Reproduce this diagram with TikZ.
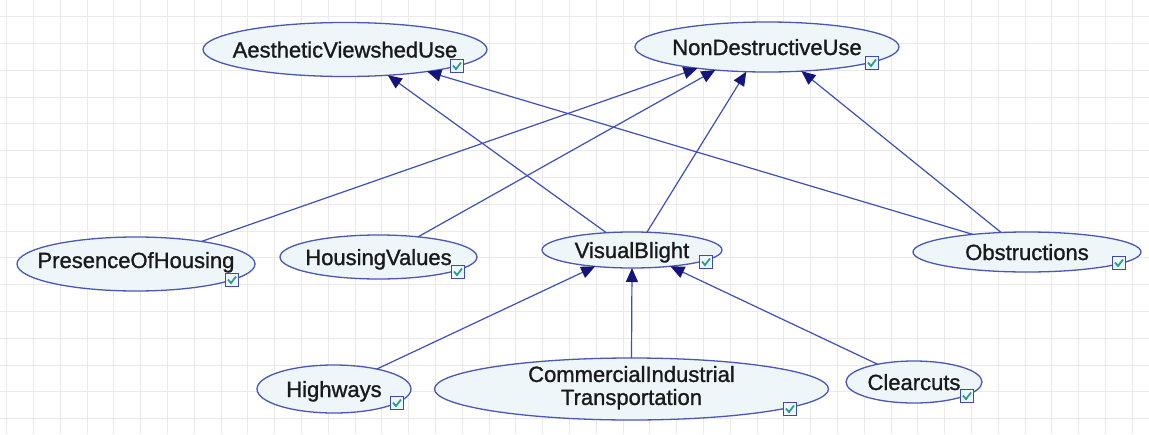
\documentclass[tikz,border=0pt]{standalone}
\usepackage{fontspec}
\setmainfont{Liberation Sans}
\newfontfamily\nodefont{Liberation Sans}[RawFeature={embolden=1.2}]
\usetikzlibrary{shapes.geometric,arrows.meta}
\definecolor{gridc}{HTML}{EAEAEE}
\definecolor{nodefill}{HTML}{EEF6FA}
\definecolor{nodeborder}{HTML}{4A57B5}
\definecolor{edgec}{HTML}{3D4FB8}
\definecolor{tipc}{HTML}{14147A}
\definecolor{boxc}{HTML}{3A4CB0}
\definecolor{checkc}{HTML}{2A9D8F}
\definecolor{textc}{HTML}{1A1A1A}
\newcommand\zw[1]{\makebox[0pt]{#1}}
\begin{document}
\begin{tikzpicture}[x=1pt,y=-1pt,
  bn/.style={ellipse, draw=nodeborder, fill=nodefill, line width=1.3pt, inner sep=0pt, outer sep=0pt,
    font=\nodefont\fontsize{22}{23}\selectfont, text=textc, text height=16pt, text depth=0pt},
  chk/.style={draw=boxc, fill=nodefill, line width=1pt, minimum size=13pt, inner sep=0pt, outer sep=0pt,
    path picture={\draw[checkc, line width=1.8pt]
      ([shift={(-4pt,0.5pt)}]path picture bounding box.center) --
      ([shift={(-1pt,-3pt)}]path picture bounding box.center) --
      ([shift={(4pt,3.5pt)}]path picture bounding box.center);}},
  arr/.style={draw=edgec, line width=1.2pt, -{Triangle[length=14pt,width=12pt,fill=tipc,color=tipc]}}
]
\useasboundingbox (0,0) rectangle (1149,434);
\fill[white] (0,0) rectangle (1149,434);
\foreach \i in {0,...,43} \draw[gridc, line width=0.8pt] ({6.5+26.8*\i},0) -- ++(0,434);
\foreach \j in {0,...,16} \draw[gridc, line width=0.8pt] (0,{16.5+26.8*\j}) -- ++(1149,0);

\node[bn, minimum width=284pt, minimum height=54pt] (AV) at (345,49.5) {\zw{AestheticViewshedUse}};
\node[bn, minimum width=264pt, minimum height=50pt] (ND) at (767,47) {\zw{NonDestructiveUse}};
\node[bn, minimum width=238pt, minimum height=54pt] (PH) at (136,264) {\raisebox{4pt}{\zw{PresenceOfHousing}}};
\node[bn, minimum width=197pt, minimum height=44pt] (HV) at (378.5,257) {\zw{HousingValues}};
\node[bn, minimum width=180pt, minimum height=36pt] (VB) at (632,250) {\zw{VisualBlight}};
\node[bn, minimum width=228pt, minimum height=40pt] (OB) at (1027,252) {\zw{Obstructions}};
\node[bn, minimum width=154pt, minimum height=48pt] (HW) at (334,389) {\zw{Highways}};
\node[bn, minimum width=394pt, minimum height=62pt, text height=0pt, text depth=0pt] (CT) at (631.5,389)
  {\makebox[0pt]{\smash{\raisebox{-5pt}{\begin{tabular}{c}CommercialIndustrial\\Transportation\end{tabular}}}}};
\node[bn, minimum width=136pt, minimum height=42pt] (CC) at (914,382) {\zw{Clearcuts}};

\node[chk] (kAV) at (457,66) {};
\node[chk] (kND) at (872,63) {};
\node[chk] (kPH) at (232,280) {};
\node[chk] (kHV) at (458,272) {};
\node[chk] (kVB) at (706,262) {};
\node[chk] (kOB) at (1119,263) {};
\node[chk] (kHW) at (397,403) {};
\node[chk] (kCT) at (790,409) {};
\node[chk] (kCC) at (967,396) {};

\draw[arr] (VB.146) -- (AV.-31.4);
\draw[arr] (OB.162.4) -- (AV.-15.5);
\draw[arr] (PH.19.7) -- (ND.-163.4);
\draw[arr] (HV.27.9) -- (ND.-156.9);
\draw[arr] (VB.50.2) -- (ND.-130.6);
\draw[arr] (OB.143.5) -- (ND.-35.5);
\draw[arr] (HW.25.5) -- (VB.-156.9);
\draw[arr] (CT.90) -- (VB.-90);
\draw[arr] (CC.154.7) -- (VB.-23.2);
\end{tikzpicture}
\end{document}
